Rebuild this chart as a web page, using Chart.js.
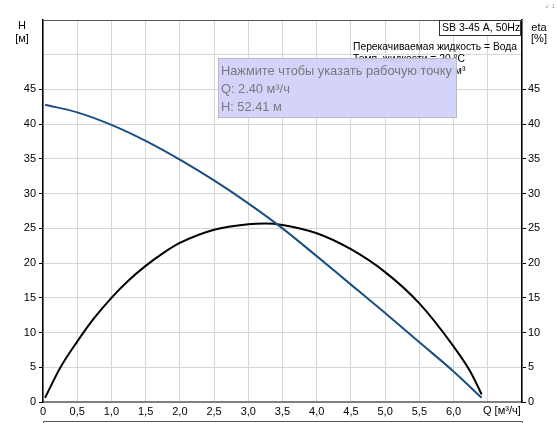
<!DOCTYPE html>
<html>
<head>
<meta charset="utf-8">
<script src="https://cdn.jsdelivr.net/npm/chart.js@4.4.0/dist/chart.umd.min.js"></script>
<style>
html, body { margin: 0; padding: 0; background: #fff; }
#wrap { width: 557px; height: 423px; }
</style>
</head>
<body>
<div id="wrap"><canvas id="pump" width="557" height="423"></canvas></div>
<script>
// pump curve data
var qHead = [0.03, 0.5, 1.0, 1.5, 2.0, 2.5, 3.0, 3.5, 4.0, 4.5, 5.0, 5.5, 6.0, 6.41];
var head  = [42.8, 41.7, 39.9, 37.6, 34.9, 31.9, 28.6, 25.0, 21.0, 16.9, 12.8, 8.6, 4.4, 0.6];

var qEta = [0.03, 0.25, 0.5, 0.75, 1.0, 1.25, 1.5, 1.75, 2.0, 2.5, 3.0, 3.25, 3.5, 4.0, 4.5, 5.0, 5.5, 6.0, 6.25, 6.41];
var eta  = [0.6, 4.9, 8.7, 12.1, 15.0, 17.5, 19.6, 21.4, 22.9, 24.8, 25.6, 25.7, 25.5, 24.3, 22.0, 18.7, 14.2, 8.0, 4.3, 1.1];

var xLabels = ['0', '0,5', '1,0', '1,5', '2,0', '2,5', '3,0', '3,5', '4,0', '4,5', '5,0', '5,5', '6,0'];
var yLastLabel = 45;

var pumpName = 'SB 3-45 A, 50Hz';
var infoLines = ['Перекачиваемая жидкость = Вода', 'Темп. жидкости = 20 °C', 'Плотность = 998.2 кг/м³'];
var hintLines = ['Нажмите чтобы указать рабочую точку', 'Q: 2.40 м³/ч', 'H: 52.41 м'];

var FONT = '"Liberation Sans", Arial, sans-serif';

function pts(xs, ys) {
    return xs.map(function(x, i) { return {x: x, y: ys[i]}; });
}

var extras = {
    id: 'extras',
    afterDraw: function(chart) {
        var c = chart.ctx;
        var a = chart.chartArea;
        c.save();

        // top frame line
        c.strokeStyle = '#555';
        c.lineWidth = 1;
        c.beginPath();
        c.moveTo(a.left, a.top + 0.5);
        c.lineTo(a.right, a.top + 0.5);
        c.stroke();

        c.fillStyle = '#000';
        c.font = '11px ' + FONT;
        c.textBaseline = 'middle';
        c.textAlign = 'center';
        c.fillText('H', 22, 26);
        c.fillText('[м]', 22, 39);
        c.fillText('eta', 539, 28);
        c.fillText('[%]', 539, 39);

        c.textAlign = 'left';
        c.fillText('Q [м³/ч]', 483, 411);

        // pump name box
        c.font = '10.5px ' + FONT;
        c.fillStyle = '#fff';
        c.fillRect(439.5, 20.5, 81, 15);
        c.strokeStyle = '#333';
        c.strokeRect(439.5, 20.5, 81, 15);
        c.fillStyle = '#000';
        c.fillText(pumpName, 442, 28.5);

        c.font = '10.3px ' + FONT;
        infoLines.forEach(function(t, i) {
            c.fillText(t, 353, 47 + i * 12.2);
        });

        // hint box
        c.fillStyle = 'rgba(210, 210, 250, 0.95)';
        c.fillRect(218.5, 58.5, 238, 59);
        c.strokeStyle = '#b8b8d0';
        c.strokeRect(218.5, 58.5, 238, 59);
        c.fillStyle = '#7a7a7a';
        c.font = '12.8px ' + FONT;
        hintLines.forEach(function(t, i) {
            c.fillText(t, 221, 71 + i * 18.3);
        });

        // frame of the next panel
        c.strokeStyle = '#555';
        c.beginPath();
        c.moveTo(43.5, 423);
        c.lineTo(43.5, 421.5);
        c.lineTo(522.5, 421.5);
        c.lineTo(522.5, 423);
        c.stroke();

        // small icon text in corner
        c.fillStyle = '#999';
        c.font = '6px ' + FONT;
        c.fillText('↙ 1', 545, 6);

        c.restore();
    }
};

new Chart(document.getElementById('pump'), {
    type: 'line',
    data: {
        datasets: [{
            label: 'H',
            data: pts(qHead, head),
            borderColor: '#1b4f82',
            borderWidth: 2,
            pointRadius: 0,
            cubicInterpolationMode: 'monotone',
            yAxisID: 'y'
        }, {
            label: 'eta',
            data: pts(qEta, eta),
            borderColor: '#000',
            borderWidth: 2,
            pointRadius: 0,
            cubicInterpolationMode: 'monotone',
            yAxisID: 'y2'
        }]
    },
    options: {
        responsive: false,
        animation: false,
        devicePixelRatio: 1,
        layout: { padding: { top: 20, left: 0, right: 0, bottom: 0 } },
        plugins: {
            legend: { display: false },
            tooltip: { enabled: false }
        },
        scales: {
            x: {
                type: 'linear',
                min: 0,
                max: 7,
                afterFit: function(s) { s.height = 21; },
                ticks: {
                    stepSize: 0.5,
                    autoSkip: false,
                    maxRotation: 0,
                    padding: 3,
                    color: '#000',
                    font: { family: FONT, size: 11 },
                    callback: function(v) {
                        var i = Math.round(v * 2);
                        return i < xLabels.length ? xLabels[i] : '';
                    }
                },
                grid: { color: '#d6d6d6', lineWidth: 1, drawTicks: false },
                border: { color: '#808080', width: 2 }
            },
            y: {
                position: 'left',
                min: 0,
                max: 55,
                afterFit: function(s) { s.width = 43; },
                ticks: {
                    stepSize: 5,
                    padding: 3,
                    color: '#000',
                    font: { family: FONT, size: 11 },
                    callback: function(v) { return v <= yLastLabel ? v : ''; }
                },
                grid: {
                    color: '#d6d6d6',
                    lineWidth: 1,
                    tickLength: 4,
                    tickColor: function(ctx) { return ctx.tick && ctx.tick.value <= yLastLabel ? '#000' : 'rgba(0,0,0,0)'; }
                },
                border: { color: '#000', width: 1.5 }
            },
            y2: {
                position: 'right',
                min: 0,
                max: 55,
                afterFit: function(s) { s.width = 35; },
                ticks: {
                    stepSize: 5,
                    padding: 2,
                    color: '#000',
                    font: { family: FONT, size: 11 },
                    callback: function(v) { return v <= yLastLabel ? v : ''; }
                },
                grid: {
                    drawOnChartArea: false,
                    tickLength: 4,
                    tickColor: function(ctx) { return ctx.tick && ctx.tick.value <= yLastLabel ? '#000' : 'rgba(0,0,0,0)'; }
                },
                border: { color: '#000', width: 1.5 }
            }
        }
    },
    plugins: [extras]
});
</script>
</body>
</html>
